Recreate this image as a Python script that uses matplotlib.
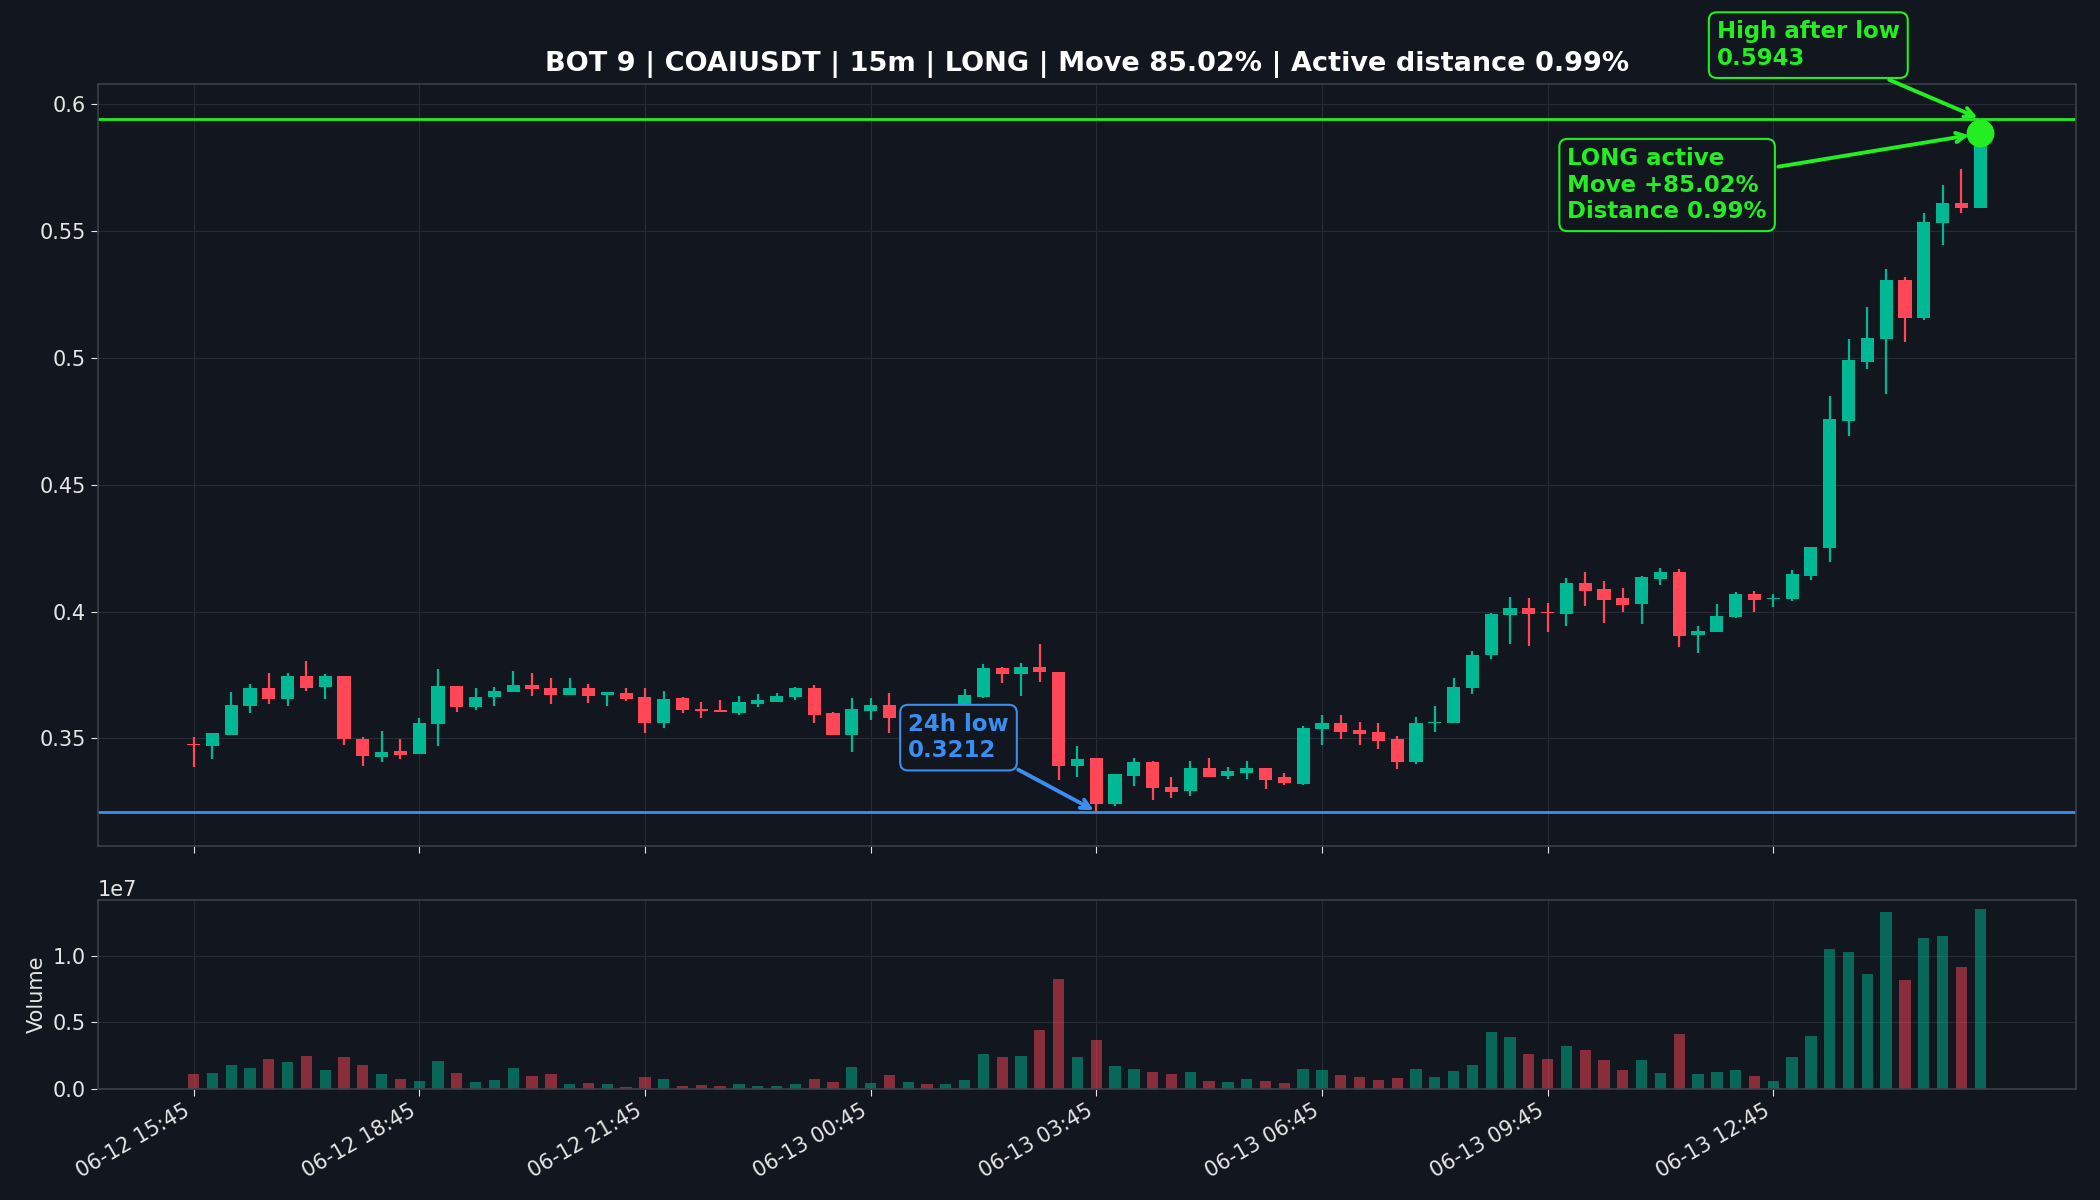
"""
Candlestick chart with volume panel for BOT 9 / COAIUSDT 15m.
"""
import numpy as np
import matplotlib
matplotlib.use("Agg")
import matplotlib.pyplot as plt
from matplotlib.ticker import FuncFormatter

# 15m candles, 06-12 15:45 -> 06-13 15:30
opens = [0.3478, 0.3470, 0.3513, 0.3627, 0.3699, 0.3655, 0.3746, 0.3702, 0.3746, 0.3499,
         0.3428, 0.3449, 0.3438, 0.3556, 0.3707, 0.3623, 0.3664, 0.3682, 0.3712, 0.3699,
         0.3670, 0.3697, 0.3672, 0.3681, 0.3664, 0.3559, 0.3660, 0.3618, 0.3614, 0.3602,
         0.3634, 0.3644, 0.3664, 0.3700, 0.3600, 0.3512, 0.3609, 0.3632, 0.3580, 0.3602,
         0.3590, 0.3620, 0.3665, 0.3776, 0.3753, 0.3783, 0.3763, 0.3390, 0.3421, 0.3241,
         0.3353, 0.3406, 0.3310, 0.3293, 0.3385, 0.3352, 0.3362, 0.3385, 0.3347, 0.3320,
         0.3537, 0.3559, 0.3533, 0.3524, 0.3496, 0.3406, 0.3560, 0.3562, 0.3697, 0.3830,
         0.3987, 0.4013, 0.3998, 0.3991, 0.4114, 0.4088, 0.4052, 0.4030, 0.4128, 0.4157,
         0.3906, 0.3921, 0.3978, 0.4068, 0.4050, 0.4048, 0.4140, 0.4252, 0.4753, 0.4985,
         0.5074, 0.5309, 0.5159, 0.5531, 0.5611, 0.5590]
highs = [0.3507, 0.3522, 0.3683, 0.3716, 0.3759, 0.3759, 0.3805, 0.3755, 0.3746, 0.3507,
         0.3530, 0.3496, 0.3579, 0.3775, 0.3707, 0.3699, 0.3703, 0.3766, 0.3759, 0.3738,
         0.3738, 0.3716, 0.3682, 0.3699, 0.3697, 0.3686, 0.3665, 0.3644, 0.3653, 0.3668,
         0.3676, 0.3680, 0.3703, 0.3711, 0.3604, 0.3659, 0.3659, 0.3678, 0.3610, 0.3615,
         0.3635, 0.3694, 0.3792, 0.3783, 0.3796, 0.3871, 0.3763, 0.3469, 0.3421, 0.3358,
         0.3424, 0.3412, 0.3349, 0.3412, 0.3421, 0.3389, 0.3412, 0.3385, 0.3362, 0.3550,
         0.3592, 0.3594, 0.3566, 0.3559, 0.3510, 0.3585, 0.3628, 0.3738, 0.3845, 0.3996,
         0.4056, 0.4052, 0.4033, 0.4134, 0.4155, 0.4122, 0.4092, 0.4142, 0.4173, 0.4168,
         0.3945, 0.4029, 0.4076, 0.4081, 0.4068, 0.4166, 0.4256, 0.4849, 0.5074, 0.5199,
         0.5352, 0.5319, 0.5571, 0.5682, 0.5745, 0.5943]
lows = [0.3389, 0.3419, 0.3513, 0.3601, 0.3634, 0.3627, 0.3686, 0.3657, 0.3474, 0.3391,
        0.3408, 0.3419, 0.3438, 0.3471, 0.3605, 0.3611, 0.3628, 0.3682, 0.3666, 0.3634,
        0.3670, 0.3638, 0.3627, 0.3649, 0.3520, 0.3543, 0.3600, 0.3579, 0.3604, 0.3594,
        0.3623, 0.3644, 0.3652, 0.3560, 0.3512, 0.3445, 0.3573, 0.3521, 0.3565, 0.3580,
        0.3585, 0.3610, 0.3659, 0.3718, 0.3668, 0.3724, 0.3338, 0.3348, 0.3212, 0.3235,
        0.3313, 0.3258, 0.3267, 0.3273, 0.3349, 0.3340, 0.3340, 0.3301, 0.3317, 0.3317,
        0.3474, 0.3496, 0.3476, 0.3458, 0.3380, 0.3400, 0.3524, 0.3562, 0.3677, 0.3814,
        0.3873, 0.3865, 0.3919, 0.3944, 0.4022, 0.3954, 0.3997, 0.3950, 0.4105, 0.3860,
        0.3838, 0.3921, 0.3974, 0.3997, 0.4017, 0.4042, 0.4124, 0.4194, 0.4694, 0.4956,
        0.4856, 0.5064, 0.5149, 0.5444, 0.5571, 0.5590]
closes = [0.3475, 0.3522, 0.3632, 0.3699, 0.3655, 0.3746, 0.3697, 0.3746, 0.3496, 0.3431,
          0.3448, 0.3433, 0.3562, 0.3707, 0.3623, 0.3664, 0.3687, 0.3712, 0.3693, 0.3670,
          0.3697, 0.3666, 0.3682, 0.3657, 0.3559, 0.3657, 0.3611, 0.3610, 0.3604, 0.3642,
          0.3651, 0.3668, 0.3700, 0.3593, 0.3512, 0.3615, 0.3632, 0.3580, 0.3595, 0.3590,
          0.3620, 0.3672, 0.3776, 0.3753, 0.3783, 0.3763, 0.3390, 0.3420, 0.3241, 0.3358,
          0.3406, 0.3306, 0.3290, 0.3385, 0.3349, 0.3373, 0.3385, 0.3336, 0.3323, 0.3542,
          0.3559, 0.3524, 0.3516, 0.3490, 0.3406, 0.3559, 0.3563, 0.3703, 0.3830, 0.3990,
          0.4016, 0.3991, 0.3994, 0.4114, 0.4083, 0.4046, 0.4026, 0.4138, 0.4157, 0.3904,
          0.3925, 0.3984, 0.4068, 0.4046, 0.4054, 0.4147, 0.4256, 0.4760, 0.4992, 0.5078,
          0.5309, 0.5158, 0.5535, 0.5611, 0.5590, 0.5885]
volumes = [1.075, 1.15, 1.75, 1.525, 2.2, 1.975, 2.425, 1.375, 2.35, 1.75,
           1.075, 0.7, 0.55, 2.05, 1.15, 0.475, 0.625, 1.525, 0.925, 1.075,
           0.325, 0.4, 0.325, 0.1, 0.85, 0.7, 0.175, 0.25, 0.175, 0.325,
           0.175, 0.175, 0.325, 0.7, 0.475, 1.6, 0.4, 1.0, 0.475, 0.325,
           0.325, 0.625, 2.575, 2.35, 2.425, 4.375, 8.275, 2.35, 3.625, 1.675,
           1.45, 1.225, 1.075, 1.225, 0.55, 0.475, 0.7, 0.55, 0.4, 1.45,
           1.375, 1.0, 0.85, 0.625, 0.775, 1.45, 0.85, 1.3, 1.75, 4.225,
           3.85, 2.575, 2.2, 3.175, 2.875, 2.125, 1.375, 2.125, 1.15, 4.075,
           1.075, 1.225, 1.375, 0.925, 0.55, 2.35, 3.925, 10.525, 10.3, 8.65,
           13.3, 8.2, 11.35, 11.5, 9.175, 13.525]  # millions

tick_pos = [0, 12, 24, 36, 48, 60, 72, 84]
tick_labels = ["06-12 15:45", "06-12 18:45", "06-12 21:45", "06-13 00:45",
               "06-13 03:45", "06-13 06:45", "06-13 09:45", "06-13 12:45"]

low_24h = 0.3212
low_idx = 48
high_after_low = 0.5943
high_idx = 95
current = closes[-1]

# colours
bg = "#12161f"
up = "#00b894"
down = "#ff4757"
blue = "#3a8ef0"
lime = "#22ee22"
grid_c = "#262b36"
spine_c = "#3b404c"
text_c = "#e6e6e6"

o = np.array(opens)
h = np.array(highs)
l = np.array(lows)
c = np.array(closes)
v = np.array(volumes) * 1e6
x = np.arange(len(o))
colors = [up if cc >= oo else down for oo, cc in zip(o, c)]

plt.rcParams["font.family"] = ["DejaVu Sans"]
fig = plt.figure(figsize=(21, 12), dpi=100, facecolor=bg)
ax = fig.add_axes([0.0465, 0.295, 0.9421, 0.635], facecolor=bg)
axv = fig.add_axes([0.0465, 0.0928, 0.9421, 0.1574], facecolor=bg, sharex=ax)

# candles
ax.vlines(x, l, h, colors=colors, linewidth=1.6, zorder=2)
body_bottom = np.minimum(o, c)
body_height = np.maximum(np.abs(c - o), 0.0004)
ax.bar(x, body_height, bottom=body_bottom, width=0.7, color=colors, zorder=3)

# reference lines
ax.axhline(low_24h, color=blue, linewidth=2, zorder=1)
ax.axhline(high_after_low, color=lime, linewidth=2, zorder=1)
ax.plot([high_idx], [current], "o", color=lime, markersize=19, zorder=5)

ax.annotate("24h low\n0.3212", xy=(low_idx, low_24h), xytext=(38.0, 0.3601),
            color=blue, fontsize=16.5, fontweight="bold", ha="left", va="top",
            bbox=dict(boxstyle="round,pad=0.35", fc=bg, ec=blue, lw=1.5),
            arrowprops=dict(arrowstyle="->", color=blue, lw=2.8), zorder=6)
ax.annotate("High after low\n0.5943", xy=(high_idx, high_after_low), xytext=(81.0, 0.6331),
            color=lime, fontsize=16.5, fontweight="bold", ha="left", va="top",
            bbox=dict(boxstyle="round,pad=0.35", fc=bg, ec=lime, lw=1.5),
            arrowprops=dict(arrowstyle="->", color=lime, lw=2.8),
            annotation_clip=False, zorder=6)
ax.annotate("LONG active\nMove +85.02%\nDistance 0.99%", xy=(high_idx, current),
            xytext=(73.05, 0.5832),
            color=lime, fontsize=16.5, fontweight="bold", ha="left", va="top",
            bbox=dict(boxstyle="round,pad=0.35", fc=bg, ec=lime, lw=1.5),
            arrowprops=dict(arrowstyle="->", color=lime, lw=2.8, shrinkB=8), zorder=6)

ax.set_title("BOT 9 | COAIUSDT | 15m | LONG | Move 85.02% | Active distance 0.99%",
             color="white", fontsize=19.5, fontweight="bold", pad=9)

# volume
vol_colors = [up if cc >= oo else down for oo, cc in zip(o, c)]
axv.bar(x, v, width=0.6, color=vol_colors, alpha=0.5)
axv.set_ylabel("Volume", color=text_c, fontsize=15)

ax.set_xlim(-5.1, 100.1)
ax.set_ylim(0.3076, 0.6080)
ax.yaxis.set_major_formatter(FuncFormatter(lambda val, pos: f"{val:g}"))
axv.set_ylim(0, 1.42e7)
axv.set_xticks(tick_pos)
axv.set_xticklabels(tick_labels, rotation=30, ha="right")
plt.setp(ax.get_xticklabels(), visible=False)

for a in (ax, axv):
    a.grid(True, color=grid_c, linewidth=0.8)
    a.set_axisbelow(True)
    a.tick_params(colors=text_c, labelsize=15, length=5)
    for s in a.spines.values():
        s.set_color(spine_c)
        s.set_linewidth(1.2)
axv.yaxis.get_offset_text().set_color(text_c)
axv.yaxis.get_offset_text().set_fontsize(15)

fig.savefig("out.png", dpi=100, facecolor=bg)
